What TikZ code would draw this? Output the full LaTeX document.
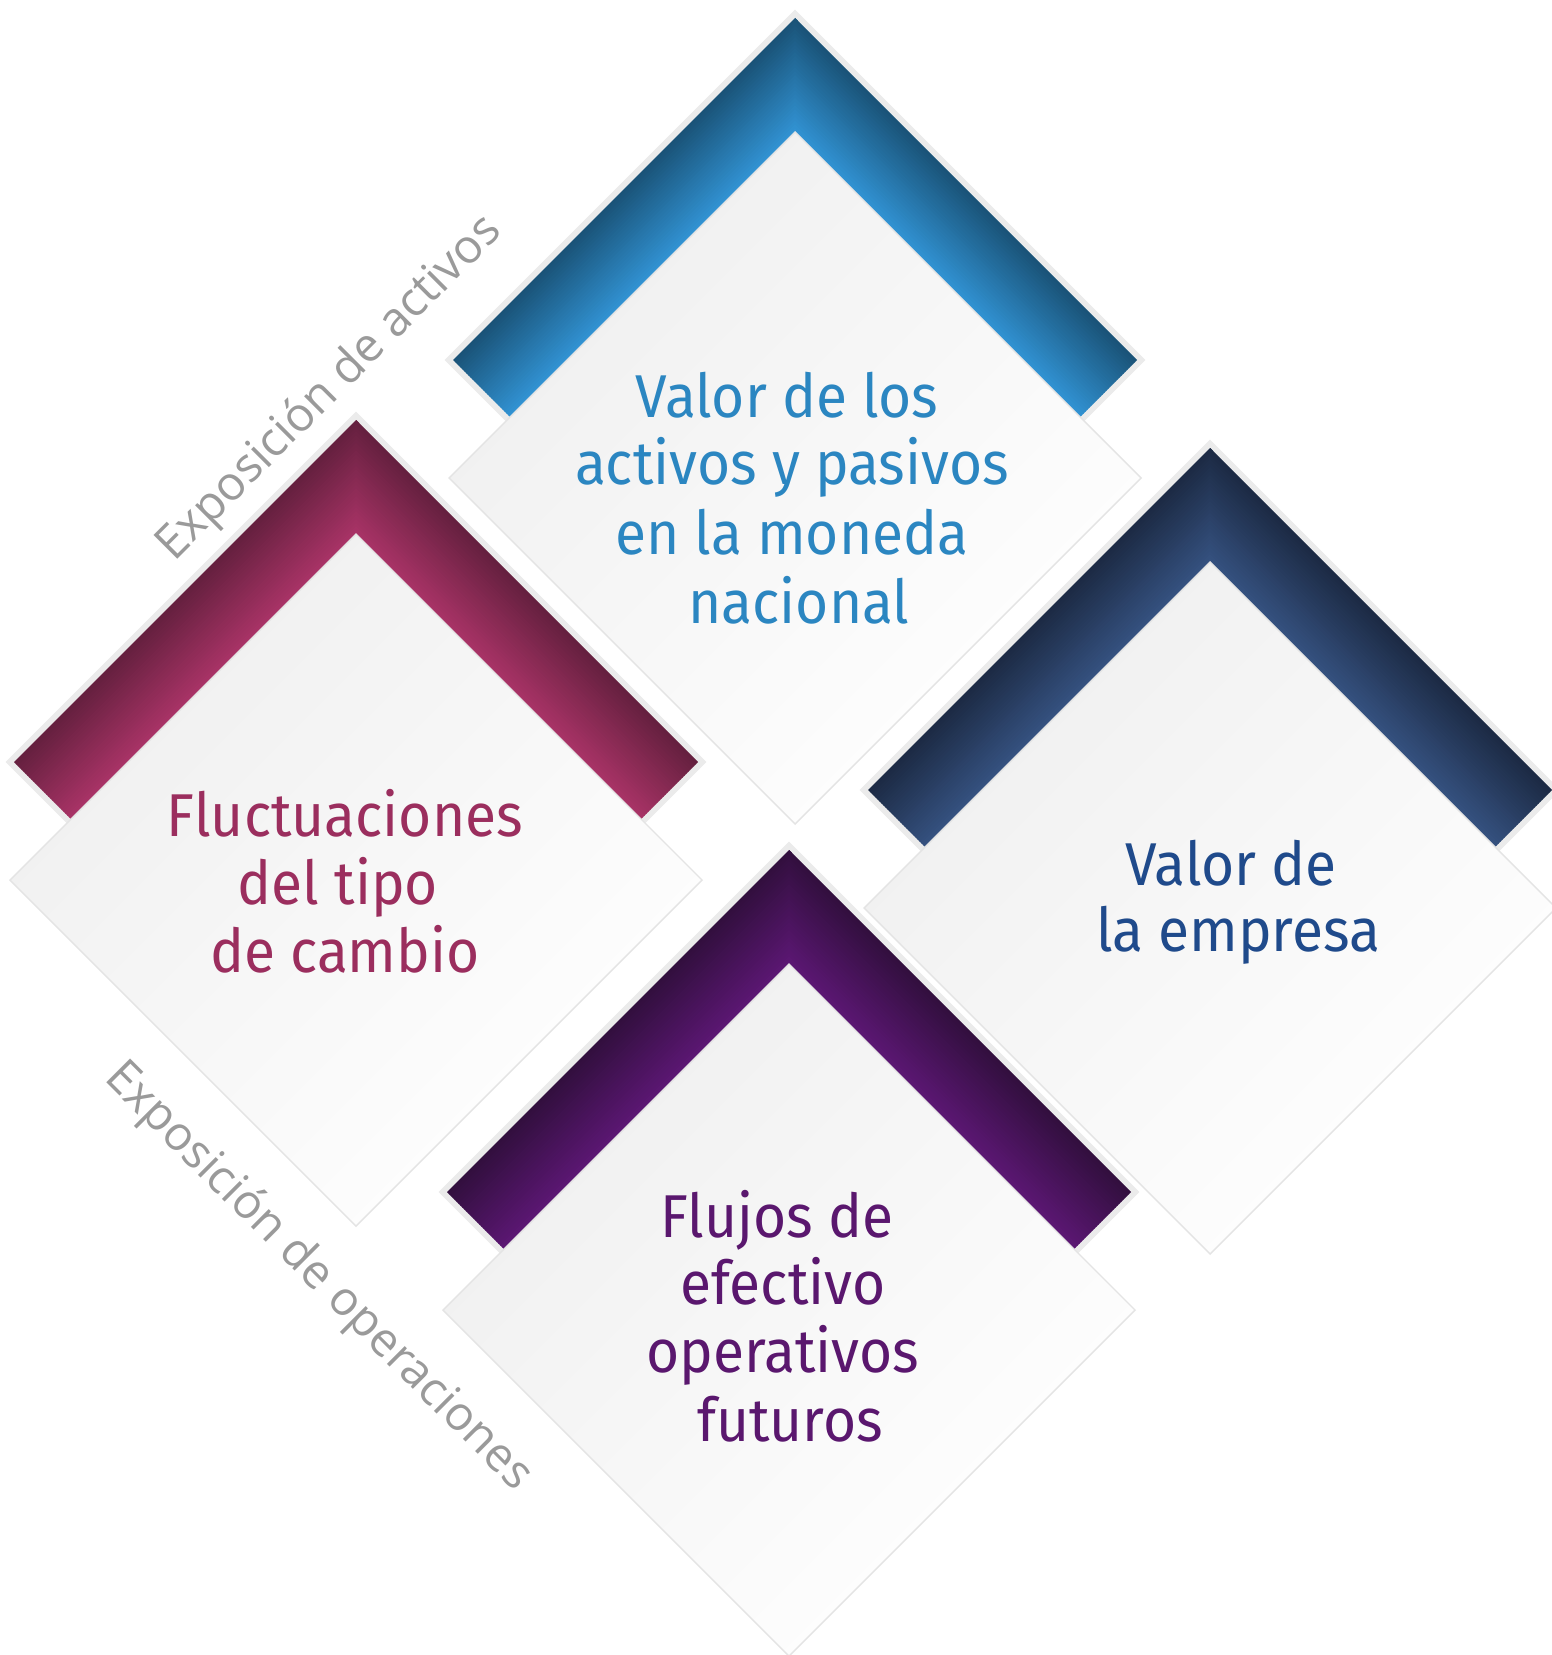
\documentclass[tikz,border=0pt]{standalone}
\usepackage{fontspec}
\setmainfont[FakeStretch=0.94]{Fira Sans}
\newfontfamily\labelfont{Open Sans}
\definecolor{blueDark}{HTML}{1A5378}
\definecolor{blueLight}{HTML}{3192D2}
\definecolor{blueText}{HTML}{2B86C1}
\definecolor{magDark}{HTML}{65203F}
\definecolor{magLight}{HTML}{A83366}
\definecolor{magText}{HTML}{9B2E5E}
\definecolor{navyDark}{HTML}{1C2A44}
\definecolor{navyLight}{HTML}{35517F}
\definecolor{navyText}{HTML}{1F4A8B}
\definecolor{purDark}{HTML}{320F3E}
\definecolor{purLight}{HTML}{5B1773}
\definecolor{purText}{HTML}{5A176E}
\definecolor{chevGray}{HTML}{EBEBEB}
\definecolor{bodyGray}{HTML}{EFEFEF}
\definecolor{bodyLine}{HTML}{E4E4E4}
\definecolor{labelGray}{HTML}{9A9A9A}
\tikzset{
  bodytext/.style={anchor=base, inner sep=0pt, font=\fontsize{17.2}{19}\selectfont},
  labeltext/.style={inner sep=0pt, text=labelGray, font=\labelfont\fontsize{13.4}{16}\selectfont},
  chevborder/.style={draw=chevGray, line width=3.4pt, line join=miter},
  bodyshape/.style={left color=bodyGray, right color=white, shading angle=45, draw=bodyLine, line width=0.4pt}
}
% #1 = centre x, #2 = top of body (inner apex), #3 dark, #4 light
\newcommand\Chevron[4]{%
  \draw[chevborder] (#1,#2-114) -- (#1-342,#2+228) -- (#1-285,#2+285) -- (#1,#2)
     -- (#1+285,#2+285) -- (#1+342,#2+228) -- cycle;
  \begin{scope}
    \clip (#1,#2-114) -- (#1-342,#2+228) -- (#1-285,#2+285) -- (#1,#2)
     -- (#1+285,#2+285) -- (#1+342,#2+228) -- cycle;
    \foreach \k in {0,...,29}{
      \pgfmathsetmacro\ya{#2-114+3.8*\k}
      \pgfmathsetmacro\yb{\ya+4.8}
      \pgfmathsetmacro\pc{100*\k/29}
      \fill[#4!\pc!#3] (#1+3,\ya-3) -- (#1-400,\ya+400) -- (#1-400,\yb+400) -- (#1+3,\yb-3) -- cycle;
    }
    \foreach \k in {0,...,29}{
      \pgfmathsetmacro\ya{#2-114+3.8*\k}
      \pgfmathsetmacro\yb{\ya+4.8}
      \pgfmathsetmacro\pc{100*\k/29}
      \fill[#4!\pc!#3] (#1,\ya) -- (#1+400,\ya+400) -- (#1+400,\yb+400) -- (#1,\yb) -- cycle;
    }
  \end{scope}
  \shade[bodyshape] (#1,#2) -- (#1-346,#2+346) -- (#1,#2+692) -- (#1+346,#2+346) -- cycle;
}
\begin{document}
\begin{tikzpicture}[x=0.01cm, y=-0.01cm]
\useasboundingbox[fill=white] (0,0) rectangle (1552,1655);

\Chevron{795}{132}{blueDark}{blueLight}
\Chevron{356}{534}{magDark}{magLight}
\Chevron{1210}{562}{navyDark}{navyLight}
\Chevron{789}{964}{purDark}{purLight}

% top diamond text
\node[bodytext, text=blueText] (b1) at (787,418) {Valor de los};
\node[bodytext, text=blueText] (b2) at (792,485) {activos y pasivos};
\node[bodytext, text=blueText] (b3) at (792,554) {en la moneda};
\node[bodytext, text=blueText] (b4) at (799,623) {nacional};

% left diamond text
\node[bodytext, text=magText] (m1) at (345,836) {Fluctuaciones};
\node[bodytext, text=magText] (m2) at (338,904) {del tipo};
\node[bodytext, text=magText] (m3) at (345,972) {de cambio};

% right diamond text
\node[bodytext, text=navyText] (n1) at (1231,885) {Valor de};
\node[bodytext, text=navyText] (n2) at (1238,951) {la empresa};

% bottom diamond text
\node[bodytext, text=purText] (p1) at (777,1237) {Flujos de};
\node[bodytext, text=purText] (p2) at (783,1304) {efectivo};
\node[bodytext, text=purText] (p3) at (783,1372) {operativos};
\node[bodytext, text=purText] (p4) at (790,1441) {futuros};

% side labels
\node[labeltext, rotate=45] (la) at (330,389) {Exposición de activos};
\node[labeltext, rotate=-45] (lo) at (318,1277) {Exposición de operaciones};
\end{tikzpicture}
\end{document}
